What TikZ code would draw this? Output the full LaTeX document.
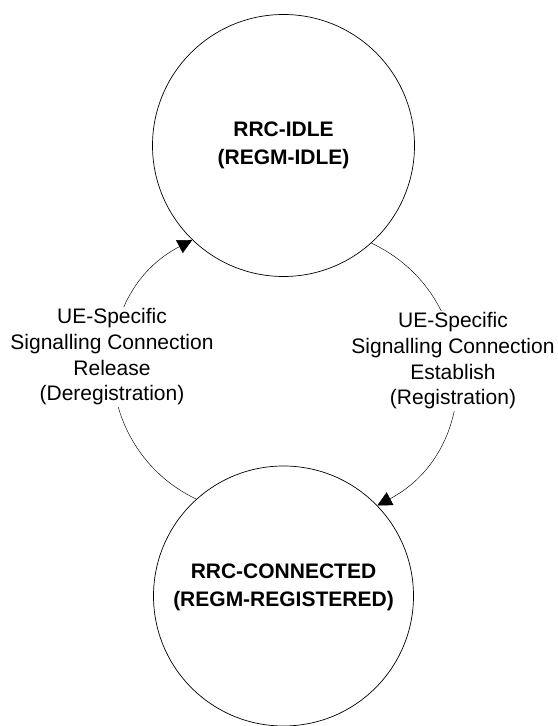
\documentclass[tikz,border=0pt]{standalone}
\usepackage{fontspec}
\setmainfont{Liberation Sans}
\usetikzlibrary{arrows.meta}
\begin{document}
\begin{tikzpicture}[x=1bp,y=1bp,
  statecircle/.style={circle, draw, line width=0.7bp, minimum size=#1, inner sep=0pt},
  statetext/.style={font=\fontsize{21bp}{28bp}\selectfont\bfseries, align=center},
  trans/.style={line width=0.45bp, -{Triangle[length=14.5bp,width=14.5bp]}, bend left=63.5, looseness=1.18},
  translabel/.style={fill=white, inner sep=2bp, align=center, font=\fontsize{21bp}{25.7bp}\selectfont}]
\useasboundingbox (0,0) rectangle (558,726);
\node[statecircle=262bp] (idle) at (283.5,580.5) {};
\node[statecircle=260bp] (conn) at (283.5,130) {};
\node[statetext] (idletext) at (idle.center) {RRC-IDLE\\(REGM-IDLE)};
\node[statetext] (conntext) at ([yshift=9bp]conn.center) {RRC-CONNECTED\\(REGM-REGISTERED)};
\draw[trans] (conn.132) to (idle.226);
\draw[trans] (idle.312) to (conn.44.5);
\node[translabel] (rel) at (112,369) {UE-Specific\\Signalling Connection\\Release\\(Deregistration)};
\node[translabel] (est) at (453,365) {UE-Specific\\Signalling Connection\\Establish\\(Registration)};
\end{tikzpicture}
\end{document}
